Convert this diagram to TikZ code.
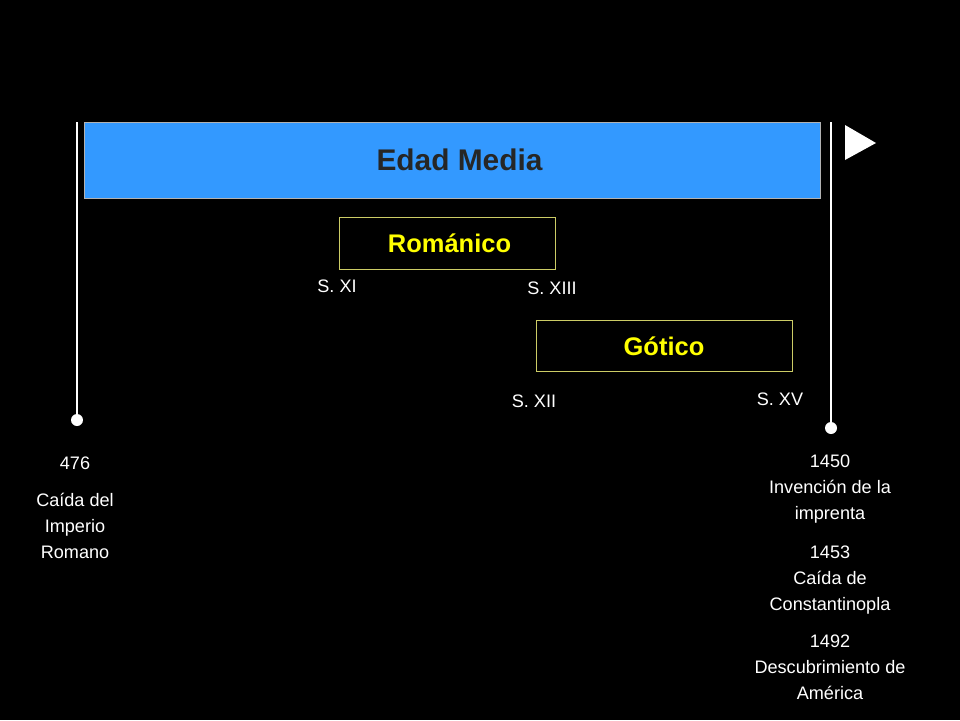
\documentclass[tikz,border=0pt]{standalone}
\usepackage{fontspec}
\setmainfont{Liberation Sans}
\usetikzlibrary{positioning}
\definecolor{mediablue}{HTML}{3399FF}
\definecolor{artyellow}{HTML}{FFFF00}
\definecolor{boxline}{HTML}{CCCC66}

\begin{document}
\begin{tikzpicture}[x=0.02cm, y=-0.02cm,
    period/.style={draw=boxline, fill=black, inner sep=0pt, font=\fontsize{14.5}{17}\selectfont\bfseries, text=artyellow},
    century/.style={text=white, font=\fontsize{10.3}{12}\selectfont},
    event/.style={text=white, align=center, font=\fontsize{10.3}{14.8}\selectfont},
    milestone/.style={circle, fill=white, minimum size=0.24cm, inner sep=0pt}
  ]

  % Background
  \fill[black] (0,0) rectangle (960,720);

  % Main era
  \node[draw=gray!60, fill=mediablue, minimum width=14.72cm, minimum height=1.52cm, inner sep=0pt,
        font=\fontsize{17}{20}\selectfont\bfseries, text=black!85] (edad) at (452,160) {\hspace{0.3cm}Edad Media};
  \fill[white] (845,125) -- (845,160) -- (876,143) -- cycle;

  % Start and end of the era
  \coordinate (startTop) at (77,122);
  \coordinate (endTop) at (831,122);
  \node[milestone] (start) at (77,420) {};
  \node[milestone] (end) at (831,428) {};
  \draw[white, thick] (startTop) -- (start);
  \draw[white, thick] (endTop) -- (end);

  % Artistic styles
  \node[period, minimum width=4.32cm, minimum height=1.04cm] (romanico) at (447,243) {\hspace{0.1cm}Románico};
  \node[period, minimum width=5.12cm, minimum height=1.02cm] (gotico) at (664,346) {Gótico};

  \node[century] (sxi) at (337,286) {S. XI};
  \node[century] (sxiii) at (552,288) {S. XIII};
  \node[century] (sxii) at (534,401) {S. XII};
  \node[century] (sxv) at (780,399) {S. XV};

  % Events
  \node[event] (e476) at (75,463) {476};
  \node[event, below=0.22cm of e476] (caida) {Caída del\\Imperio\\Romano};
  \node[event] (e1450) at (830,489) {1450\\Invención de la\\imprenta};
  \node[event, below=0.2cm of e1450] (e1453) {1453\\Caída de\\Constantinopla};
  \node[event, below=0.16cm of e1453] (e1492) {1492\\Descubrimiento de\\América};

\end{tikzpicture}
\end{document}
